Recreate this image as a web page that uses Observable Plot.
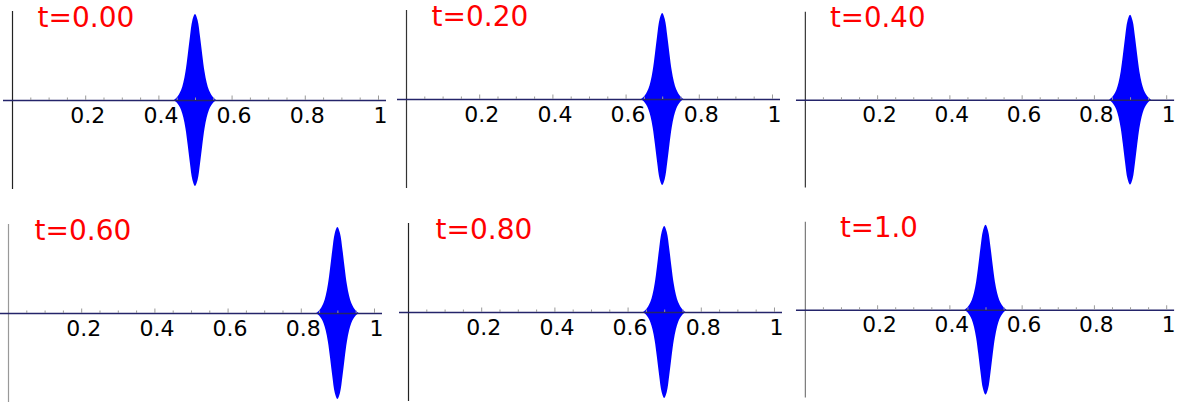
<!DOCTYPE html>
<html><head><meta charset="utf-8">
<script src="https://cdn.jsdelivr.net/npm/d3@7"></script>
<script src="https://cdn.jsdelivr.net/npm/@observablehq/plot@0.6"></script>
<style>
body{margin:0;background:#fff;}
#chart{position:relative;width:1182px;height:406px;overflow:hidden;background:#fff;}
.panel{position:absolute;}
</style></head><body><div id="chart"></div>
<script>
// Panel titles and packet centres
const titles = ["t=0.00", "t=0.20", "t=0.40", "t=0.60", "t=0.80", "t=1.0"];
const centers = [0.5, 0.7, 0.9, 0.9, 0.7, 0.5];
// Envelope of the wave packet: offset from its centre and relative amplitude
const envelopeOffsets = [-0.058, -0.05, -0.044, -0.038, -0.032, -0.026, -0.02, -0.014, -0.007, 0,
                          0.007, 0.014, 0.02, 0.026, 0.032, 0.038, 0.044, 0.05, 0.058];
const envelopeAmplitudes = [0.0, 0.03, 0.065, 0.115, 0.2, 0.33, 0.52, 0.73, 0.93, 1.0,
                            0.93, 0.73, 0.52, 0.33, 0.2, 0.115, 0.065, 0.03, 0.0];
// Axis ticks
const minorTicks = [0.05, 0.1, 0.15, 0.25, 0.3, 0.35, 0.45, 0.5, 0.55, 0.65, 0.7, 0.75, 0.85, 0.9, 0.95];
const majorTicks = [0.2, 0.4, 0.6, 0.8, 1];
const tickLabels = ["0.2", "0.4", "0.6", "0.8", "1"];

// Layout of the six panels (page placement, not data)
const layout = [
  {left: 0,   top: 0,   axisColor: "#222", titleDx: 34},
  {left: 394, top: -1,  axisColor: "#333", titleDx: 34},
  {left: 793, top: 1,   axisColor: "#333", titleDx: 34},
  {left: -4,  top: 213, axisColor: "#999", titleDx: 35},
  {left: 396, top: 212, axisColor: "#222", titleDx: 36},
  {left: 793, top: 211, axisColor: "#777", titleDx: 44}
];

const chart = document.getElementById("chart");
titles.forEach((title, k) => {
  const L = layout[k];
  const packet = envelopeOffsets.map((o, i) => ({x: centers[k] + o, lo: -envelopeAmplitudes[i], hi: envelopeAmplitudes[i]}));
  const svg = Plot.plot({
    width: 394, height: 194,
    marginLeft: 3, marginRight: 8, marginTop: 11, marginBottom: 5,
    x: {domain: [-0.0246, 1.0219], axis: null},
    y: {domain: [-1.035, 1.035], axis: null},
    style: {background: "transparent", fontFamily: "'DejaVu Sans', sans-serif", overflow: "visible"},
    marks: [
      Plot.areaY(packet, {x: "x", y1: "lo", y2: "hi", fill: "#0000ff", curve: "catmull-rom"}),
      Plot.ruleX([0], {stroke: L.axisColor, strokeWidth: 1.2}),
      Plot.ruleY([0], {stroke: "#24246a", strokeWidth: 1.5}),
      Plot.ruleX(minorTicks, {x: d => d, y1: 0, y2: 0, insetTop: -2.5, stroke: "#999", strokeWidth: 1}),
      Plot.ruleX(majorTicks, {x: d => d, y1: 0, y2: 0, insetTop: -4.5, stroke: "#999", strokeWidth: 1}),
      Plot.text(majorTicks, {x: d => d, y: 0, text: (d, i) => tickLabels[i], dy: 15, dx: 2, fontSize: 22, fill: "#000"}),
      Plot.text([title], {frameAnchor: "top-left", dx: L.titleDx, dy: 15, textAnchor: "start", lineAnchor: "bottom", fontSize: 28, fill: "#ff0000"})
    ]
  });
  const div = document.createElement("div");
  div.className = "panel";
  div.style.left = L.left + "px";
  div.style.top = L.top + "px";
  div.appendChild(svg);
  chart.appendChild(div);
});
</script>
</body></html>
